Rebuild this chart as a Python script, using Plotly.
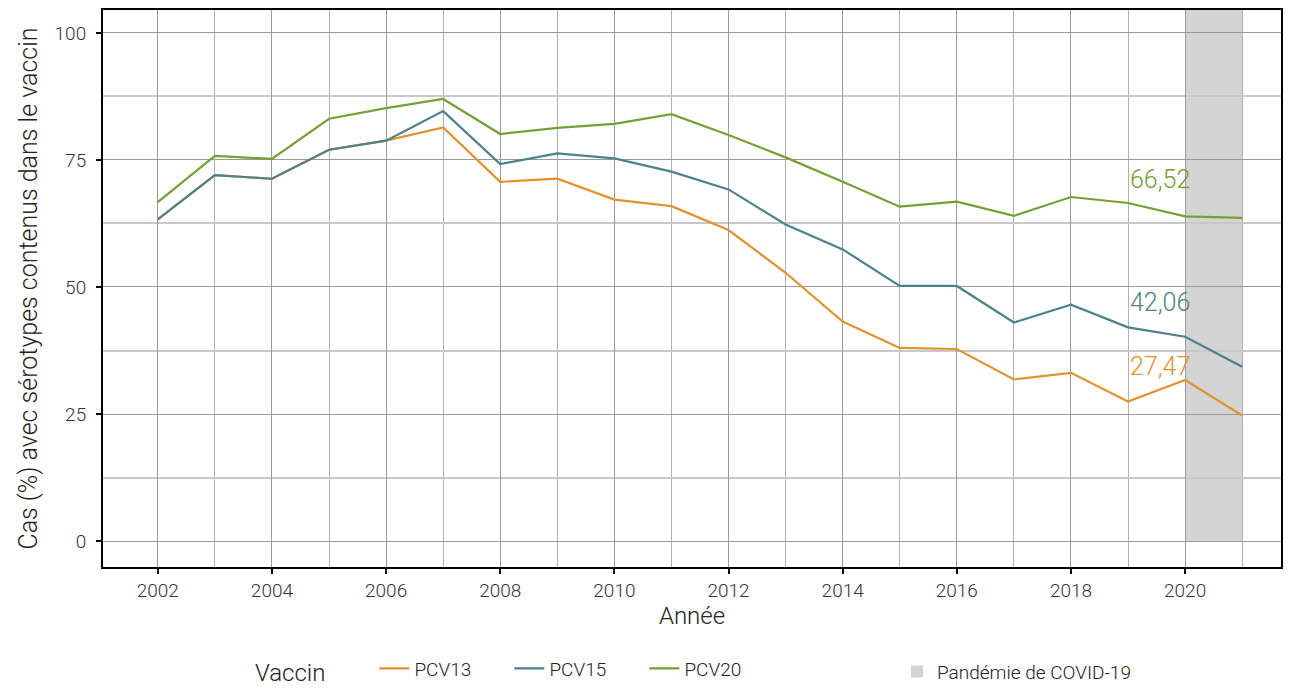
import plotly.graph_objects as go

years = list(range(2002, 2022))
pcv13 = [63.3, 72.0, 71.3, 77.0, 78.8, 81.4, 70.7, 71.3, 67.2, 65.9,
         61.2, 52.8, 43.2, 38.0, 37.8, 31.8, 33.1, 27.47, 31.7, 24.7]
pcv15 = [63.3, 72.0, 71.3, 77.0, 78.8, 84.6, 74.2, 76.3, 75.3, 72.7,
         69.2, 62.3, 57.4, 50.2, 50.2, 43.0, 46.5, 42.06, 40.2, 34.3]
pcv20 = [66.7, 75.8, 75.2, 83.1, 85.2, 87.0, 80.1, 81.3, 82.1, 84.0,
         79.9, 75.5, 70.7, 65.8, 66.8, 64.0, 67.7, 66.52, 63.9, 63.6]
series_names = ["PCV13", "PCV15", "PCV20"]
series_values = [pcv13, pcv15, pcv20]
colors = ["#E0922F", "#4E8286", "#74A035"]
label_year = 2019
label_text = ["27,47", "42,06", "66,52"]
label_y = [34.4, 46.9, 71.1]
covid_start, covid_end = 2020, 2021
covid_name = "Pandémie de COVID-19"
y_ticks = [0, 25, 50, 75, 100]
y_minor = [12.5, 37.5, 62.5, 87.5]
y_range = [-5.1, 104.5]

FONT = "Roboto, sans-serif"
TXT = "#222222"

fig = go.Figure()
for name, vals, col in zip(series_names, series_values, colors):
    fig.add_trace(go.Scatter(x=years, y=vals, mode="lines", name=name,
                             line=dict(color=col, width=2.2)))

for txt, yv, col in zip(label_text, label_y, colors):
    fig.add_annotation(x=label_year, y=yv, text=txt, showarrow=False,
                       xanchor="left", yanchor="middle", xshift=0,
                       font=dict(family=FONT, size=25, color=col, weight=300))

fig.add_shape(type="rect", xref="x", yref="y domain", x0=covid_start, x1=covid_end,
              y0=(0 - y_range[0]) / (y_range[1] - y_range[0]), y1=1,
              fillcolor="#d4d4d4", line=dict(width=0),
              layer="below", showlegend=True, name=covid_name, legend="legend2")

fig.update_layout(
    width=1293, height=682,
    margin=dict(l=95, r=20, t=2, b=123, autoexpand=False),
    plot_bgcolor="white", paper_bgcolor="white",
    font=dict(family=FONT, size=20, color=TXT, weight=300),
    legend=dict(orientation="h", x=0.1273, y=-0.186, xanchor="left", yanchor="middle",
                title=dict(text="Vaccin" + "&nbsp;" * 7, font=dict(size=24, color=TXT, weight=300)),
                font=dict(size=19, color=TXT, weight=300), entrywidth=90,
                itemwidth=30),
    legend2=dict(orientation="h", x=0.674, y=-0.188, xanchor="left", yanchor="middle",
                 font=dict(size=19, color=TXT, weight=300)),
    showlegend=True,
)
fig.update_xaxes(range=[2001.04, 2021.68], tickmode="linear", tick0=2002, dtick=2,
                 ticks="outside", ticklen=5, tickwidth=1.5, tickcolor="black",
                 ticklabelstandoff=0,
                 showline=True, linecolor="black", linewidth=2, mirror=True,
                 showgrid=True, gridcolor="#9a9a9a", gridwidth=1,
                 minor=dict(dtick=1, tick0=2003, showgrid=True, gridcolor="#b0b0b0", gridwidth=1),
                 zeroline=False,
                 title=dict(text="Année", font=dict(size=24, color=TXT, weight=300), standoff=4),
                 tickfont=dict(size=19, color="#333", weight=300))
fig.update_yaxes(range=y_range, tickmode="array", tickvals=y_ticks,
                 ticks="outside", ticklen=5, tickwidth=1.5, tickcolor="black",
                 ticklabelstandoff=6,
                 showline=True, linecolor="black", linewidth=2, mirror=True,
                 showgrid=True, gridcolor="#9a9a9a", gridwidth=1,
                 minor=dict(tickvals=y_minor, showgrid=True, gridcolor="#c8c8c8", gridwidth=1.5),
                 zeroline=False,
                 title=dict(text="Cas (%) avec sérotypes contenus dans le vaccin",
                            font=dict(size=25, color=TXT, weight=300), standoff=10),
                 tickfont=dict(size=19, color="#333", weight=300))

fig.write_html("out.html")
